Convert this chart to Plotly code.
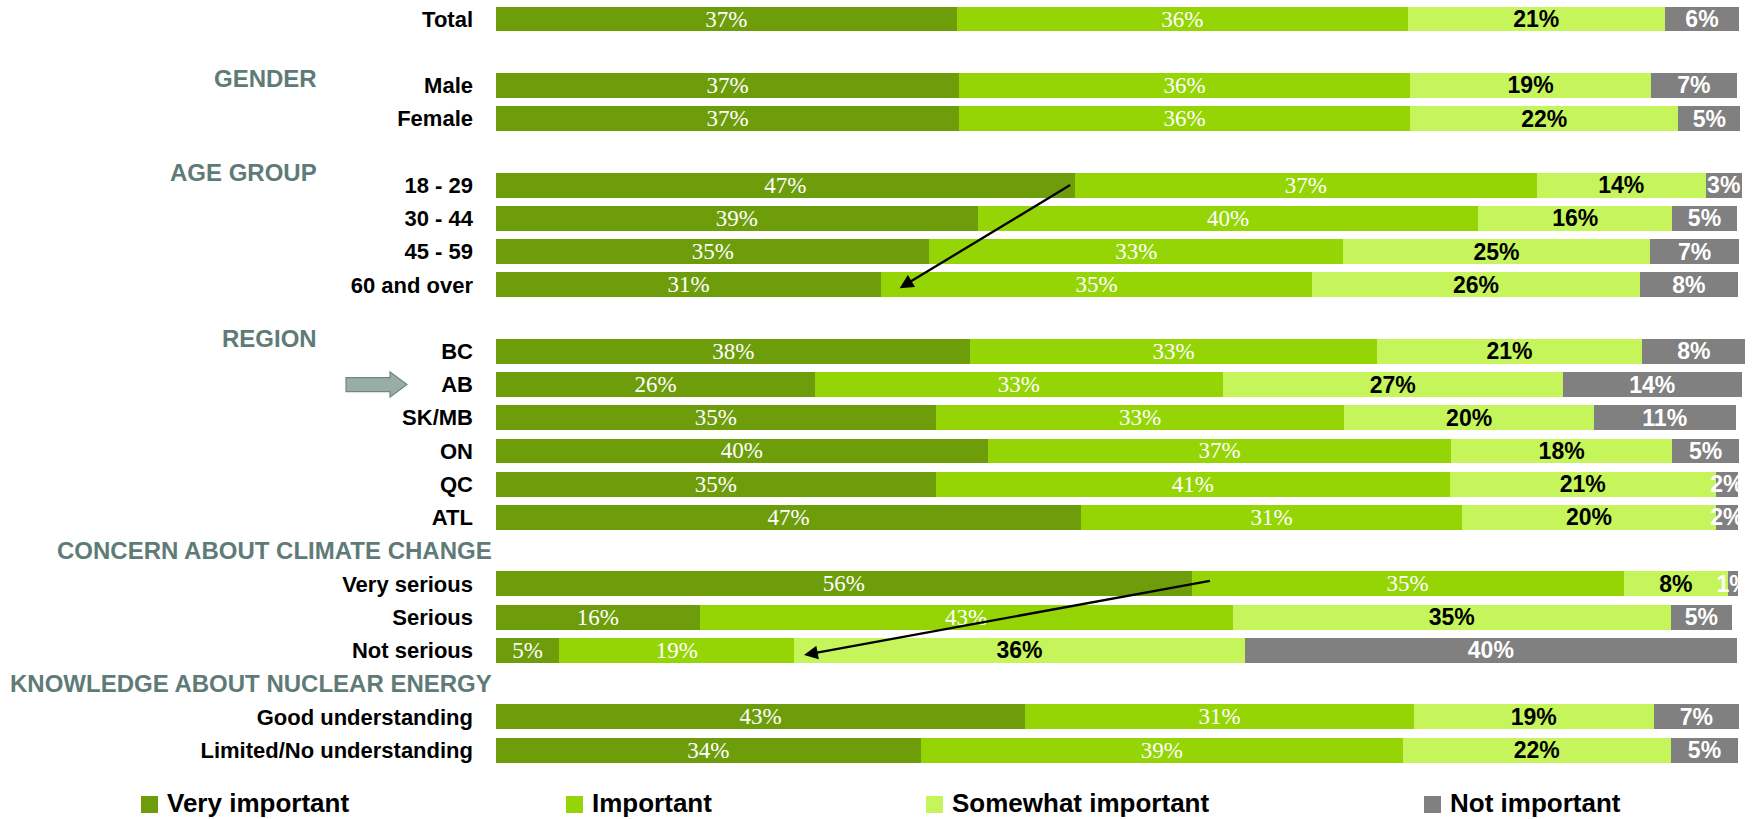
import plotly.graph_objects as go

# rows of the chart, top to bottom ("" = empty slot used for section titles / spacing)
layout_rows = ["Total", "", "Male", "Female", "", "18 - 29", "30 - 44", "45 - 59", "60 and over", "",
               "BC", "AB", "SK/MB", "ON", "QC", "ATL", "",
               "Very serious", "Serious", "Not serious", "",
               "Good understanding", "Limited/No understanding"]

categories = ["Total", "Male", "Female", "18 - 29", "30 - 44", "45 - 59", "60 and over",
              "BC", "AB", "SK/MB", "ON", "QC", "ATL",
              "Very serious", "Serious", "Not serious",
              "Good understanding", "Limited/No understanding"]

very_important = [37.1, 37.3, 37.3, 46.6, 38.8, 34.9, 31.0,
                  38.2, 25.7, 35.4, 39.6, 35.4, 47.1,
                  56.0, 16.4, 5.1, 42.6, 34.2]
important = [36.3, 36.3, 36.3, 37.2, 40.3, 33.3, 34.7,
             32.7, 32.8, 32.9, 37.3, 41.4, 30.7,
             34.8, 42.9, 18.9, 31.3, 38.8]
somewhat_important = [20.7, 19.4, 21.6, 13.6, 15.6, 24.7, 26.4,
                      21.4, 27.4, 20.1, 17.8, 21.4, 20.4,
                      8.4, 35.3, 36.3, 19.3, 21.6]
not_important = [6.0, 6.9, 5.0, 2.9, 5.2, 7.2, 7.9,
                 8.3, 14.4, 11.4, 5.4, 1.8, 1.8,
                 0.8, 4.9, 39.6, 6.9, 5.4]

series_names = ["Very important", "Important", "Somewhat important", "Not important"]
colors = ["#6E9D0B", "#95D506", "#C5F55B", "#808080"]

section_titles = ["GENDER", "AGE GROUP", "REGION",
                  "CONCERN ABOUT CLIMATE CHANGE", "KNOWLEDGE ABOUT NUCLEAR ENERGY"]
section_rows = [1.8, 4.62, 9.62, 16.0, 20.0]

row_pos = {name: i for i, name in enumerate(layout_rows) if name}
ypos = [row_pos[c] for c in categories]

# figure fills the whole window (body margin removed after plotting)
W, H = 1758, 819
L, B = 496, 52
PW, PH = W - L, H - B
ROW_PX, TOP_PX = 33.23, 19


def px(x, y):
    # window pixel -> paper coords
    return (x - L) / PW, 1 - y / PH


fig = go.Figure()
series = [very_important, important, somewhat_important, not_important]
text_fonts = [
    dict(family="Liberation Serif, Times New Roman", size=23, color="white"),
    dict(family="Liberation Serif, Times New Roman", size=23, color="white"),
    dict(family="Liberation Sans, Arial", size=23, color="black", weight="bold"),
    dict(family="Liberation Sans, Arial", size=23, color="white", weight="bold"),
]
for name, vals, col, tf in zip(series_names, series, colors, text_fonts):
    fig.add_trace(go.Bar(
        name=name, y=ypos, x=vals, orientation='h',
        marker=dict(color=col, line=dict(width=0)),
        width=0.75,
        texttemplate='%{x:.0f}%',
        textposition='inside',
        insidetextanchor='middle',
        textangle=0,
        textfont=tf,
        cliponaxis=False,
        hoverinfo='skip',
    ))

annotations = []
for title, r in zip(section_titles, section_rows):
    right = 319 if len(title) < 12 else 494
    annotations.append(dict(
        x=px(right, 0)[0], xref='paper', xanchor='right',
        y=r, yref='y', yanchor='middle', showarrow=False,
        text=title,
        font=dict(family="Liberation Sans, Arial", size=24, color="#5F7B77", weight="bold"),
    ))

# arrows
annotations.append(dict(x=32.5, y=8.1, ax=46.35, ay=4.97, xref='x', yref='y', axref='x', ayref='y',
                        showarrow=True, arrowhead=2, arrowsize=1.2, arrowwidth=2.3,
                        arrowcolor='black', text='', standoff=0))
annotations.append(dict(x=24.8, y=19.14, ax=57.6, ay=16.9, xref='x', yref='y', axref='x', ayref='y',
                        showarrow=True, arrowhead=2, arrowsize=1.2, arrowwidth=2.3,
                        arrowcolor='black', text='', standoff=0))

# legend drawn by hand
shapes = []
legend_x = [141, 566, 926, 1424]
for name, col, lx in zip(series_names, colors, legend_x):
    x0, y0 = px(lx, 796)
    x1, y1 = px(lx + 17, 813)
    shapes.append(dict(type='rect', xref='paper', yref='paper', x0=x0, y0=y1, x1=x1, y1=y0,
                       fillcolor=col, line=dict(width=0)))
    tx, ty = px(lx + 24, 803)
    annotations.append(dict(x=tx, y=ty, xref='paper', yref='paper', xanchor='left', yanchor='middle',
                            showarrow=False, text=name,
                            font=dict(family="Liberation Sans, Arial", size=26, color="black", weight="bold")))

# block arrow pointing at AB
cy = TOP_PX + row_pos["AB"] * ROW_PX
pts = [(346, cy - 7), (390, cy - 7), (390, cy - 12.5), (407, cy), (390, cy + 12.5), (390, cy + 7), (346, cy + 7)]
path = "M " + " L ".join("{:.5f},{:.5f}".format(*px(a, b)) for a, b in pts) + " Z"
shapes.append(dict(type='path', xref='paper', yref='paper', path=path,
                   fillcolor='#98ACA8', line=dict(color='#6F8783', width=1.2)))

fig.update_layout(
    width=W, height=H,
    margin=dict(l=L, r=0, t=0, b=B),
    barmode='stack',
    showlegend=False,
    paper_bgcolor='white',
    plot_bgcolor='white',
    uniformtext=dict(mode='show', minsize=23),
    xaxis=dict(range=[0, PW / 12.42], visible=False, fixedrange=True),
    yaxis=dict(
        range=[(PH - TOP_PX) / ROW_PX, -TOP_PX / ROW_PX],
        tickvals=ypos, ticktext=categories,
        tickfont=dict(family="Liberation Sans, Arial", size=22, color="black", weight="bold"),
        ticks='', ticklabelstandoff=22, ticklabeloverflow='allow',
        showgrid=False, zeroline=False, showline=False, automargin=False, fixedrange=True,
    ),
    annotations=annotations,
    shapes=shapes,
)

fig.write_html("out.html", config={'displayModeBar': False},
               post_script="document.body.style.margin='0';document.body.style.overflow='hidden';")
